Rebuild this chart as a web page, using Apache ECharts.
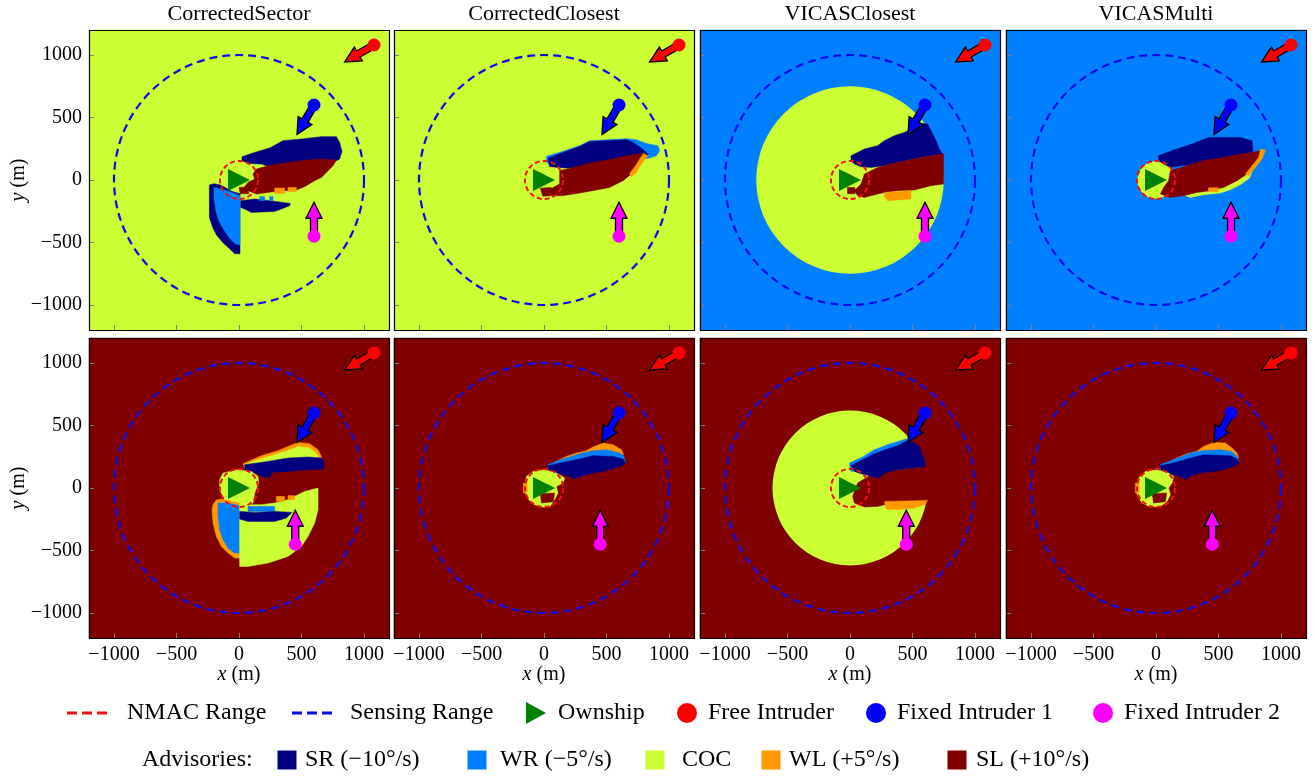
<!DOCTYPE html>
<html><head><meta charset="utf-8">
<script src="https://cdn.jsdelivr.net/npm/echarts@6/dist/echarts.min.js"></script>
<style>html,body{margin:0;padding:0;background:#fff}#c{width:1315px;height:779px}</style>
</head><body><div id="c"></div>
<script>
// ---------------- data ----------------
const titles = ['CorrectedSector', 'CorrectedClosest', 'VICASClosest', 'VICASMulti'];
const ticks = [-1000, -500, 0, 500, 1000];
const axisMin = -1200, axisMax = 1200;
const advisories = ['SR', 'WR', 'COC', 'WL', 'SL'];
const advisoryLabels = ['SR (\u221210\u00b0/s)', 'WR (\u22125\u00b0/s)', 'COC', 'WL (+5\u00b0/s)', 'SL (+10\u00b0/s)'];
const nmacRadius = 152.4;
const sensingRadius = 1000;
const ownship = [0, 0];
const freeIntruder = [1080, 1080, 210];
const fixedIntruder1 = [600, 600, 240];
const fixedIntruder2Top = [600, -450, 90];
const fixedIntruder2Bottom = [450, -450, 90];
const FULL = [[-1200, -1200], [1200, -1200], [1200, 1200], [-1200, 1200]];

const regCorrectedSectorTop = [
  ['COC', FULL],
  ['SR', [[24,187],[125,221],[245,256],[352,315],[499,328],[659,347],[779,347],[805,301],[824,229],[805,168],[752,141],[392,101],[272,96],[179,128],[72,133],[24,155]]],
  ['SL', [[112,48],[139,88],[232,115],[392,141],[552,160],[659,168],[779,160],[752,115],[699,61],[659,21],[605,-5],[525,-53],[445,-85],[339,-85],[232,-99],[139,-112],[72,-85],[45,-53],[72,-19],[125,8]]],
  ['SL', [[0,-60],[60,-55],[80,-110],[10,-110]]],
  ['WL', [[285,-64],[365,-64],[365,-107],[285,-107]]],
  ['WL', [[392,-59],[459,-59],[459,-91],[392,-91]]],
  ['SR', [[13,-165],[125,-152],[245,-165],[411,-187],[405,-205],[339,-232],[285,-251],[99,-259],[45,-232],[13,-219]]],
  ['WR', [[165,-133],[205,-133],[205,-165],[165,-165]]],
  ['WR', [[245,-133],[272,-133],[272,-165],[245,-165]]],
  ['SR', [[-237,-40],[-200,-30],[-150,-40],[-110,-60],[-60,-90],[8,-110],[8,-590],[-35,-590],[-75,-550],[-130,-500],[-180,-440],[-210,-380],[-237,-300]]],
  ['WR', [[-200,-60],[-150,-70],[-100,-85],[-40,-105],[8,-125],[8,-520],[-30,-510],[-80,-460],[-120,-400],[-160,-330],[-185,-250],[-200,-150]]]
];
const regCorrectedClosestTop = [
  ['COC', FULL],
  ['WR', [[20,190],[152,230],[285,275],[365,314],[659,330],[740,322],[819,292],[912,275],[925,235],[899,195],[845,176],[659,155],[392,115],[179,101],[45,115],[20,155]]],
  ['SR', [[32,176],[152,221],[285,269],[365,309],[659,323],[712,301],[779,256],[832,208],[819,176],[659,149],[392,107],[179,96],[45,107]]],
  ['SL', [[125,75],[232,101],[392,141],[552,168],[659,195],[779,213],[819,200],[792,155],[752,101],[699,48],[632,-5],[525,-59],[419,-80],[312,-99],[232,-112],[152,-125],[72,-125],[45,-85],[72,-59],[125,-32]]],
  ['SL', [[-30,-65],[60,-60],[70,-125],[-10,-130]]],
  ['WL', [[797,213],[832,195],[779,128],[739,61],[699,27],[685,53],[733,115],[771,176]]]
];
const regVicasClosestTop = [
  ['WR', FULL],
  ['COC', 'disk', 0, 0, 750],
  ['SR', [[8,195],[61,221],[115,248],[221,275],[275,315],[355,355],[435,381],[515,421],[581,453],[621,448],[648,395],[688,315],[715,248],[741,208],[648,195],[515,168],[381,141],[275,115],[168,101],[88,107],[35,128],[8,155]]],
  ['SL', [[115,48],[221,101],[381,141],[515,168],[648,195],[749,208],[749,-32],[648,-45],[515,-80],[381,-85],[275,-99],[221,-112],[115,-139],[61,-125],[35,-85],[88,-32]]],
  ['SL', [[-20,-60],[40,-60],[40,-110],[-20,-110]]],
  ['WL', [[275,-99],[488,-85],[488,-152],[301,-165],[275,-133]]]
];
const regVicasMultiTop = [
  ['WR', FULL],
  ['COC', 'disk', 0, 0, 150],
  ['SR', [[21,195],[141,240],[288,288],[355,315],[421,341],[675,341],[768,315],[776,235],[755,213],[648,203],[488,168],[328,128],[195,115],[115,101],[61,128],[21,155]]],
  ['COC', [[781,100],[749,16],[675,-37],[595,-77],[515,-104],[381,-117],[275,-139],[235,-125],[300,-60],[600,50]]],
  ['SL', [[115,75],[221,107],[381,155],[541,181],[675,208],[808,229],[848,240],[835,181],[781,128],[728,48],[648,-5],[541,-59],[435,-85],[328,-99],[221,-125],[115,-139],[35,-112],[61,-59],[101,-5]]],
  ['WL', [[835,248],[875,240],[848,168],[795,101],[741,35],[715,48],[768,115],[821,181]]],
  ['WL', [[420,-62],[500,-62],[500,-92],[420,-92]]]
];
const regCorrectedSectorBottom = [
  ['SL', FULL],
  ['WL', [[32,195],[179,259],[312,299],[392,333],[472,365],[565,355],[632,307],[659,253],[659,213],[45,160]]],
  ['COC', [[40,187],[179,235],[312,275],[392,301],[472,331],[557,323],[613,285],[637,248],[637,205],[45,152]]],
  ['SR', [[45,187],[232,213],[392,240],[552,248],[659,240],[680,213],[680,152],[552,147],[392,133],[259,125],[253,88],[192,88],[139,120],[45,120]]],
  ['COC', [[-128,120],[-8,147],[99,133],[152,93],[157,40],[125,-40],[112,-120],[45,-147],[-35,-133],[-115,-93],[-155,-13],[-155,67]]],
  ['WL', [[-208,-133],[-181,-93],[-141,-88],[5,-120],[5,-560],[-35,-560],[-88,-520],[-141,-467],[-181,-387],[-208,-280],[-216,-173]]],
  ['WR', [[-168,-120],[-88,-120],[5,-141],[5,-520],[-35,-520],[-88,-480],[-128,-413],[-155,-333],[-168,-227]]],
  ['COC', [[5,-133],[179,-133],[285,-120],[392,-93],[525,-27],[632,0],[632,-173],[605,-280],[552,-387],[499,-467],[392,-547],[232,-600],[72,-627],[5,-627]]],
  ['WL', [[299,-67],[365,-67],[365,-107],[299,-107]]],
  ['WL', [[392,-61],[445,-61],[445,-93],[392,-93]]],
  ['WR', [[72,-147],[285,-147],[285,-187],[72,-187]]],
  ['SR', [[5,-187],[125,-195],[285,-187],[424,-195],[379,-240],[285,-267],[72,-267],[5,-248]]]
];
const regCorrectedClosestBottom = [
  ['SL', FULL],
  ['WL', [[72,200],[179,253],[259,280],[325,293],[392,328],[472,360],[552,347],[619,307],[637,267],[499,253],[285,240],[179,205],[99,173]]],
  ['WR', [[32,187],[152,232],[285,275],[392,299],[499,307],[605,280],[637,259],[651,205],[392,187],[125,160],[32,147]]],
  ['SR', [[32,179],[152,205],[285,232],[392,259],[552,253],[632,232],[651,205],[632,179],[552,155],[472,133],[392,120],[339,107],[285,93],[245,72],[205,93],[125,115],[45,120]]],
  ['COC', [[-141,93],[-88,133],[5,147],[99,120],[165,80],[152,40],[99,13],[112,-40],[85,-93],[45,-152],[-35,-152],[-101,-120],[-141,-67],[-155,13]]],
  ['SL', [[-30,-45],[85,-40],[75,-110],[-20,-120]]],
  ['WL', [[-165,40],[-135,40],[-135,-40],[-165,-40]]]
];
const regVicasClosestBottom = [
  ['SL', FULL],
  ['COC', 'disk', 0, 0, 620],
  ['SL', [[61,40],[168,107],[275,125],[381,147],[488,160],[608,173],[701,200],[701,-107],[488,-107],[328,-120],[221,-147],[115,-152],[35,-120],[21,-67]]],
  ['WR', [[-5,200],[101,248],[195,307],[301,347],[448,392],[488,373],[381,307],[275,253],[168,187],[61,141],[8,133]]],
  ['SR', [[8,179],[88,221],[195,275],[301,312],[381,339],[461,381],[515,365],[555,333],[573,280],[600,213],[603,173],[488,160],[381,147],[275,120],[235,80],[181,93],[88,115],[35,133]]],
  ['WL', [[275,-107],[621,-99],[595,-133],[515,-160],[381,-173],[288,-168]]]
];
const regVicasMultiBottom = [
  ['SL', FULL],
  ['WL', [[88,200],[168,240],[248,275],[323,293],[381,333],[461,365],[555,360],[608,320],[648,280],[661,240],[621,253],[488,267],[328,253],[168,213],[101,187]]],
  ['WR', [[35,187],[141,227],[275,280],[381,301],[515,307],[608,293],[648,253],[667,205],[381,187],[115,160],[35,147]]],
  ['SR', [[35,179],[155,205],[275,240],[381,267],[595,259],[648,232],[667,200],[621,173],[541,147],[461,133],[381,125],[328,115],[275,93],[235,67],[195,93],[115,115],[48,120]]],
  ['COC', [[-139,80],[-85,133],[8,147],[101,120],[141,93],[128,40],[101,0],[115,-53],[88,-107],[35,-147],[-45,-152],[-112,-120],[-152,-53],[-157,27]]],
  ['SL', [[-30,-45],[85,-40],[75,-110],[-20,-120]]],
  ['WL', [[-165,40],[-135,40],[-135,-40],[-165,-40]]]
];

// ---------------- styles / layout ----------------
const COLORS = { SR: '#000080', WR: '#0080ff', COC: '#ccff33', WL: '#ff9900', SL: '#800000' };
const FONT = 'Liberation Serif';
const COLS = [89, 394, 700, 1006];
const ROWS = [30, 338];
const SIZE = 300;

const panels = [
  { row: 0, col: 0, regions: regCorrectedSectorTop, fixed2: fixedIntruder2Top },
  { row: 0, col: 1, regions: regCorrectedClosestTop, fixed2: fixedIntruder2Top },
  { row: 0, col: 2, regions: regVicasClosestTop, fixed2: fixedIntruder2Top },
  { row: 0, col: 3, regions: regVicasMultiTop, fixed2: fixedIntruder2Top },
  { row: 1, col: 0, regions: regCorrectedSectorBottom, fixed2: fixedIntruder2Bottom },
  { row: 1, col: 1, regions: regCorrectedClosestBottom, fixed2: fixedIntruder2Bottom },
  { row: 1, col: 2, regions: regVicasClosestBottom, fixed2: fixedIntruder2Bottom },
  { row: 1, col: 3, regions: regVicasMultiBottom, fixed2: fixedIntruder2Bottom }
];

const fmt = v => (v < 0 ? '\u2212' + Math.abs(v) : String(v));

const grid = [], xAxis = [], yAxis = [], series = [];

function ringSeries(gi, radius, color, width, dash) {
  return {
    type: 'custom', xAxisIndex: gi, yAxisIndex: gi, z: 3, silent: true,
    data: [[ownship[0], ownship[1], radius]],
    renderItem: (params, api) => {
      const c = api.coord([api.value(0), api.value(1)]);
      const r = api.size([api.value(2), 0])[0];
      return { type: 'circle', shape: { cx: c[0], cy: c[1], r: r },
        style: { fill: 'transparent', stroke: color, lineWidth: width, lineDash: dash } };
    }
  };
}
function arrowSeries(gi, intr, color) {
  return {
    type: 'custom', xAxisIndex: gi, yAxisIndex: gi, z: 4, silent: true,
    data: [intr],
    renderItem: (params, api) => {
      const c = api.coord([api.value(0), api.value(1)]);
      const h = api.value(2) * Math.PI / 180;
      const ux = Math.cos(h), uy = -Math.sin(h), nx = -uy, ny = ux;
      const L = 34, hl = 16, hw = 8, sw = 3.5, s0 = 4;
      const P = (a, b) => [c[0] + ux * a + nx * b, c[1] + uy * a + ny * b];
      return { type: 'polygon',
        shape: { points: [P(s0, sw), P(L - hl, sw), P(L - hl, hw), P(L, 0), P(L - hl, -hw), P(L - hl, -sw), P(s0, -sw)] },
        style: { fill: color, stroke: '#000', lineWidth: 1.3, lineJoin: 'miter' } };
    }
  };
}
function dotSeries(gi, intr, color) {
  return { type: 'scatter', xAxisIndex: gi, yAxisIndex: gi, z: 5, silent: true,
    data: [[intr[0], intr[1]]], symbol: 'circle', symbolSize: 13,
    itemStyle: { color: color, opacity: 1 } };
}

panels.forEach((p, gi) => {
  grid.push({ left: COLS[p.col], top: ROWS[p.row], width: SIZE, height: SIZE, show: false });
  xAxis.push({
    gridIndex: gi, type: 'value', min: axisMin, max: axisMax, z: 50, position: 'bottom',
    axisLine: { show: false, onZero: false },
    axisTick: { show: true, inside: true, length: 5, customValues: ticks, lineStyle: { color: '#808080', width: 1 } },
    axisLabel: { show: p.row === 1, customValues: ticks, formatter: fmt, color: '#000', fontFamily: FONT, fontSize: 20, margin: 7 },
    splitLine: { show: false }
  });
  yAxis.push({
    gridIndex: gi, type: 'value', min: axisMin, max: axisMax, z: 50, position: 'left',
    axisLine: { show: false, onZero: false },
    axisTick: { show: true, inside: true, length: 5, customValues: ticks, lineStyle: { color: '#808080', width: 1 } },
    axisLabel: { show: p.col === 0, customValues: ticks, formatter: fmt, color: '#000', fontFamily: FONT, fontSize: 20, margin: 7 },
    splitLine: { show: false }
  });
  const regs = p.regions;
  series.push({
    type: 'custom', xAxisIndex: gi, yAxisIndex: gi, z: 2, silent: true,
    data: regs.map((r, i) => [0, 0, i]),
    renderItem: (params, api) => {
      const r = regs[params.dataIndex];
      const fill = COLORS[r[0]];
      if (r[1] === 'disk') {
        const c = api.coord([r[2], r[3]]);
        const rad = api.size([r[4], 0])[0];
        return { type: 'circle', shape: { cx: c[0], cy: c[1], r: rad }, style: { fill: fill } };
      }
      return { type: 'polygon', shape: { points: r[1].map(pt => api.coord(pt)) },
        style: { fill: fill, stroke: fill, lineWidth: 0.5 } };
    }
  });
  series.push(ringSeries(gi, sensingRadius, '#0a0aee', 2.2, [8, 5]));
  series.push(ringSeries(gi, nmacRadius, '#ee1111', 2, [5, 3]));
  series.push(arrowSeries(gi, freeIntruder, '#ff0000'));
  series.push(arrowSeries(gi, fixedIntruder1, '#0000ff'));
  series.push(arrowSeries(gi, p.fixed2, '#ff00ff'));
  series.push(dotSeries(gi, freeIntruder, '#ff0000'));
  series.push(dotSeries(gi, fixedIntruder1, '#0000ff'));
  series.push(dotSeries(gi, p.fixed2, '#ff00ff'));
  series.push({ type: 'scatter', xAxisIndex: gi, yAxisIndex: gi, z: 6, silent: true,
    data: [ownship], symbol: 'triangle', symbolRotate: -90, symbolSize: 22,
    itemStyle: { color: '#008000', opacity: 1 } });
});

// graphic: borders, titles, axis names, legend
const graphic = [];
panels.forEach(p => {
  graphic.push({ type: 'rect', z: 100, silent: true,
    shape: { x: COLS[p.col] + 0.5, y: ROWS[p.row] + 0.5, width: SIZE, height: SIZE },
    style: { fill: 'transparent', stroke: '#000', lineWidth: 1.2 } });
});
titles.forEach((t, c) => {
  graphic.push({ type: 'text', z: 100, x: COLS[c] + SIZE / 2, y: 14,
    style: { text: t, font: '22px "' + FONT + '"', fill: '#000', align: 'center', verticalAlign: 'middle' } });
  graphic.push({ type: 'text', z: 100, x: COLS[c] + SIZE / 2, y: 675,
    style: { text: '{i|x} (m)', font: '20px "' + FONT + '"', fill: '#000', align: 'center', verticalAlign: 'middle',
      rich: { i: { fontStyle: 'italic', fontFamily: FONT, fontSize: 20 } } } });
});
ROWS.forEach(r => {
  graphic.push({ type: 'text', z: 100, x: 19, y: r + SIZE / 2, rotation: Math.PI / 2,
    style: { text: '{i|y} (m)', font: '20px "' + FONT + '"', fill: '#000', align: 'center', verticalAlign: 'middle',
      rich: { i: { fontStyle: 'italic', fontFamily: FONT, fontSize: 20 } } } });
});
const LF = '24px "' + FONT + '"';
const L1 = 713, L2 = 760;
function ltext(x, y, t) {
  graphic.push({ type: 'text', z: 100, x: x, y: y, style: { text: t, font: LF, fill: '#000', align: 'left', verticalAlign: 'middle' } });
}
graphic.push({ type: 'line', z: 100, shape: { x1: 67, y1: L1, x2: 108, y2: L1 }, style: { stroke: '#ee1111', lineWidth: 3, lineDash: [10, 5] } });
ltext(127, L1, 'NMAC Range');
graphic.push({ type: 'line', z: 100, shape: { x1: 292, y1: L1, x2: 333, y2: L1 }, style: { stroke: '#0a0aee', lineWidth: 3, lineDash: [10, 5] } });
ltext(350, L1, 'Sensing Range');
graphic.push({ type: 'polygon', z: 100, shape: { points: [[526, L1 - 11], [546, L1], [526, L1 + 11]] }, style: { fill: '#008000' } });
ltext(558, L1, 'Ownship');
const legendDots = [[687, '#ff0000', 'Free Intruder'], [876, '#0000ff', 'Fixed Intruder 1'], [1103, '#ff00ff', 'Fixed Intruder 2']];
legendDots.forEach(d => {
  graphic.push({ type: 'circle', z: 100, shape: { cx: d[0], cy: L1, r: 10 }, style: { fill: d[1] } });
  ltext(d[0] + 21, L1, d[2]);
});
ltext(142, L2, 'Advisories:');
const sqX = [287, 477, 655, 771, 957];
const txX = [305, 500, 682, 789, 976];
advisories.forEach((a, i) => {
  graphic.push({ type: 'rect', z: 100, shape: { x: sqX[i] - 9.5, y: L2 - 9.5, width: 19, height: 19 }, style: { fill: COLORS[a] } });
  ltext(txX[i], L2, advisoryLabels[i]);
});

const chart = echarts.init(document.getElementById('c'), null, { renderer: 'canvas' });
chart.setOption({ animation: false, backgroundColor: '#fff', grid, xAxis, yAxis, series, graphic });
</script></body></html>
